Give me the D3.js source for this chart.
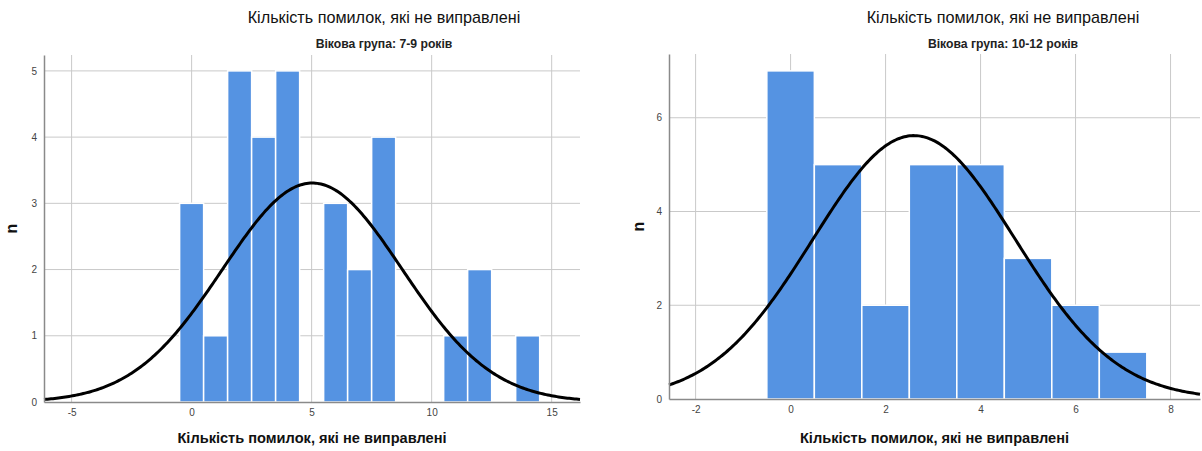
<!DOCTYPE html>
<html>
<head>
<meta charset="utf-8">
<script src="https://cdn.jsdelivr.net/npm/d3@7"></script>
<style>
  body { margin: 0; background: #fff; }
  svg text { font-family: "Liberation Sans", Arial, sans-serif; }
</style>
</head>
<body>
<div id="chart"></div>
<script>
// Histogram data (bins of width 1, centered on integers)
const titleText = "Кількість помилок, які не виправлені";
const xLabelText = "Кількість помилок, які не виправлені";

const leftSubtitle = "Вікова група: 7-9 років";
const leftBins = [0, 1, 2, 3, 4, 5, 6, 7, 8, 9, 10, 11, 12, 13, 14];
const leftCounts = [3, 1, 5, 4, 5, 0, 3, 2, 4, 0, 0, 1, 2, 0, 1];
const leftXTicks = [-5, 0, 5, 10, 15];
const leftYTicks = [0, 1, 2, 3, 4, 5];
const leftMean = 5.03, leftSd = 3.74, leftN = 31;

const rightSubtitle = "Вікова група: 10-12 років";
const rightBins = [0, 1, 2, 3, 4, 5, 6, 7];
const rightCounts = [7, 5, 2, 5, 5, 3, 2, 1];
const rightXTicks = [-2, 0, 2, 4, 6, 8];
const rightYTicks = [0, 2, 4, 6];
const rightMean = 2.6, rightSd = 2.13, rightN = 30;

const width = 1202, height = 451;
const barColor = "#5593e2";
const gridColor = "#c9c9c9";
const axisColor = "#8a8a8a";

const svg = d3.select("#chart").append("svg")
    .attr("width", width)
    .attr("height", height);

function drawPanel(p) {
    const x = d3.scaleLinear().domain(p.xDomain).range([p.left, p.right]);
    const y = d3.scaleLinear().domain(p.yDomain).range([p.bottom, p.top]);
    const g = svg.append("g");

    // vertical grid
    g.selectAll(".vgrid").data(p.xTicks).enter().append("line")
        .attr("x1", d => x(d)).attr("x2", d => x(d))
        .attr("y1", p.top).attr("y2", p.bottom)
        .attr("stroke", gridColor).attr("stroke-width", 1);
    // horizontal grid
    g.selectAll(".hgrid").data(p.yTicks.filter(d => d > 0)).enter().append("line")
        .attr("x1", p.left).attr("x2", p.right)
        .attr("y1", d => y(d)).attr("y2", d => y(d))
        .attr("stroke", gridColor).attr("stroke-width", 1);

    // bars
    const bins = p.bins.map((b, i) => ({ v: b, n: p.counts[i] })).filter(d => d.n > 0);
    g.selectAll(".bar").data(bins).enter().append("rect")
        .attr("x", d => x(d.v - 0.5))
        .attr("width", d => x(d.v + 0.5) - x(d.v - 0.5))
        .attr("y", d => y(d.n))
        .attr("height", d => y(0) - y(d.n))
        .attr("fill", barColor)
        .attr("stroke", "#fff")
        .attr("stroke-width", 1.5);

    // normal curve
    const step = (p.xDomain[1] - p.xDomain[0]) / 300;
    const pts = d3.range(p.xDomain[0], p.xDomain[1] + step / 2, step).map(v => {
        const z = (v - p.mean) / p.sd;
        return [v, p.n / (p.sd * Math.sqrt(2 * Math.PI)) * Math.exp(-0.5 * z * z)];
    });
    g.append("path")
        .datum(pts)
        .attr("d", d3.line().x(d => x(d[0])).y(d => y(d[1])))
        .attr("fill", "none")
        .attr("stroke", "#000")
        .attr("stroke-width", 3);

    // axes
    const fmt = d => String(d);
    const xAxis = g.append("g")
        .attr("transform", `translate(0,${p.bottom})`)
        .call(d3.axisBottom(x).tickValues(p.xTicks).tickFormat(fmt).tickSize(0).tickPadding(7));
    xAxis.select(".domain").attr("stroke", axisColor).attr("stroke-width", 1.5);
    const yAxis = g.append("g")
        .attr("transform", `translate(${p.left},0)`)
        .call(d3.axisLeft(y).tickValues(p.yTicks).tickFormat(fmt).tickSize(0).tickPadding(7));
    yAxis.select(".domain").attr("stroke", axisColor).attr("stroke-width", 1.5);
    g.selectAll(".tick text").attr("fill", "#444").style("font-size", "10px");

    // texts
    g.append("text")
        .attr("x", p.titleX).attr("y", 23)
        .attr("text-anchor", "middle")
        .style("font-size", "16.2px")
        .attr("fill", "#111")
        .text(titleText);
    g.append("text")
        .attr("x", p.titleX).attr("y", 47.5)
        .attr("text-anchor", "middle")
        .style("font-size", "12.2px").style("font-weight", "bold")
        .attr("fill", "#222")
        .text(p.subtitle);
    g.append("text")
        .attr("x", (p.left + p.right) / 2).attr("y", 443)
        .attr("text-anchor", "middle")
        .style("font-size", "14.6px").style("font-weight", "bold")
        .attr("fill", "#111")
        .text(xLabelText);
    g.append("text")
        .attr("transform", `translate(${p.nX},${(p.top + p.bottom) / 2}) rotate(-90)`)
        .attr("text-anchor", "middle")
        .style("font-size", "16px").style("font-weight", "bold")
        .attr("fill", "#111")
        .text("n");
}

drawPanel({
    left: 44, right: 580, top: 55, bottom: 402,
    xDomain: [-6.15, 16.18], yDomain: [0, 5.24],
    xTicks: leftXTicks, yTicks: leftYTicks,
    bins: leftBins, counts: leftCounts,
    mean: leftMean, sd: leftSd, n: leftN,
    subtitle: leftSubtitle, titleX: 384, nX: 17
});

drawPanel({
    left: 669, right: 1200, top: 54, bottom: 399,
    xDomain: [-2.56, 8.62], yDomain: [0, 7.36],
    xTicks: rightXTicks, yTicks: rightYTicks,
    bins: rightBins, counts: rightCounts,
    mean: rightMean, sd: rightSd, n: rightN,
    subtitle: rightSubtitle, titleX: 1003, nX: 644
});
</script>
</body>
</html>
